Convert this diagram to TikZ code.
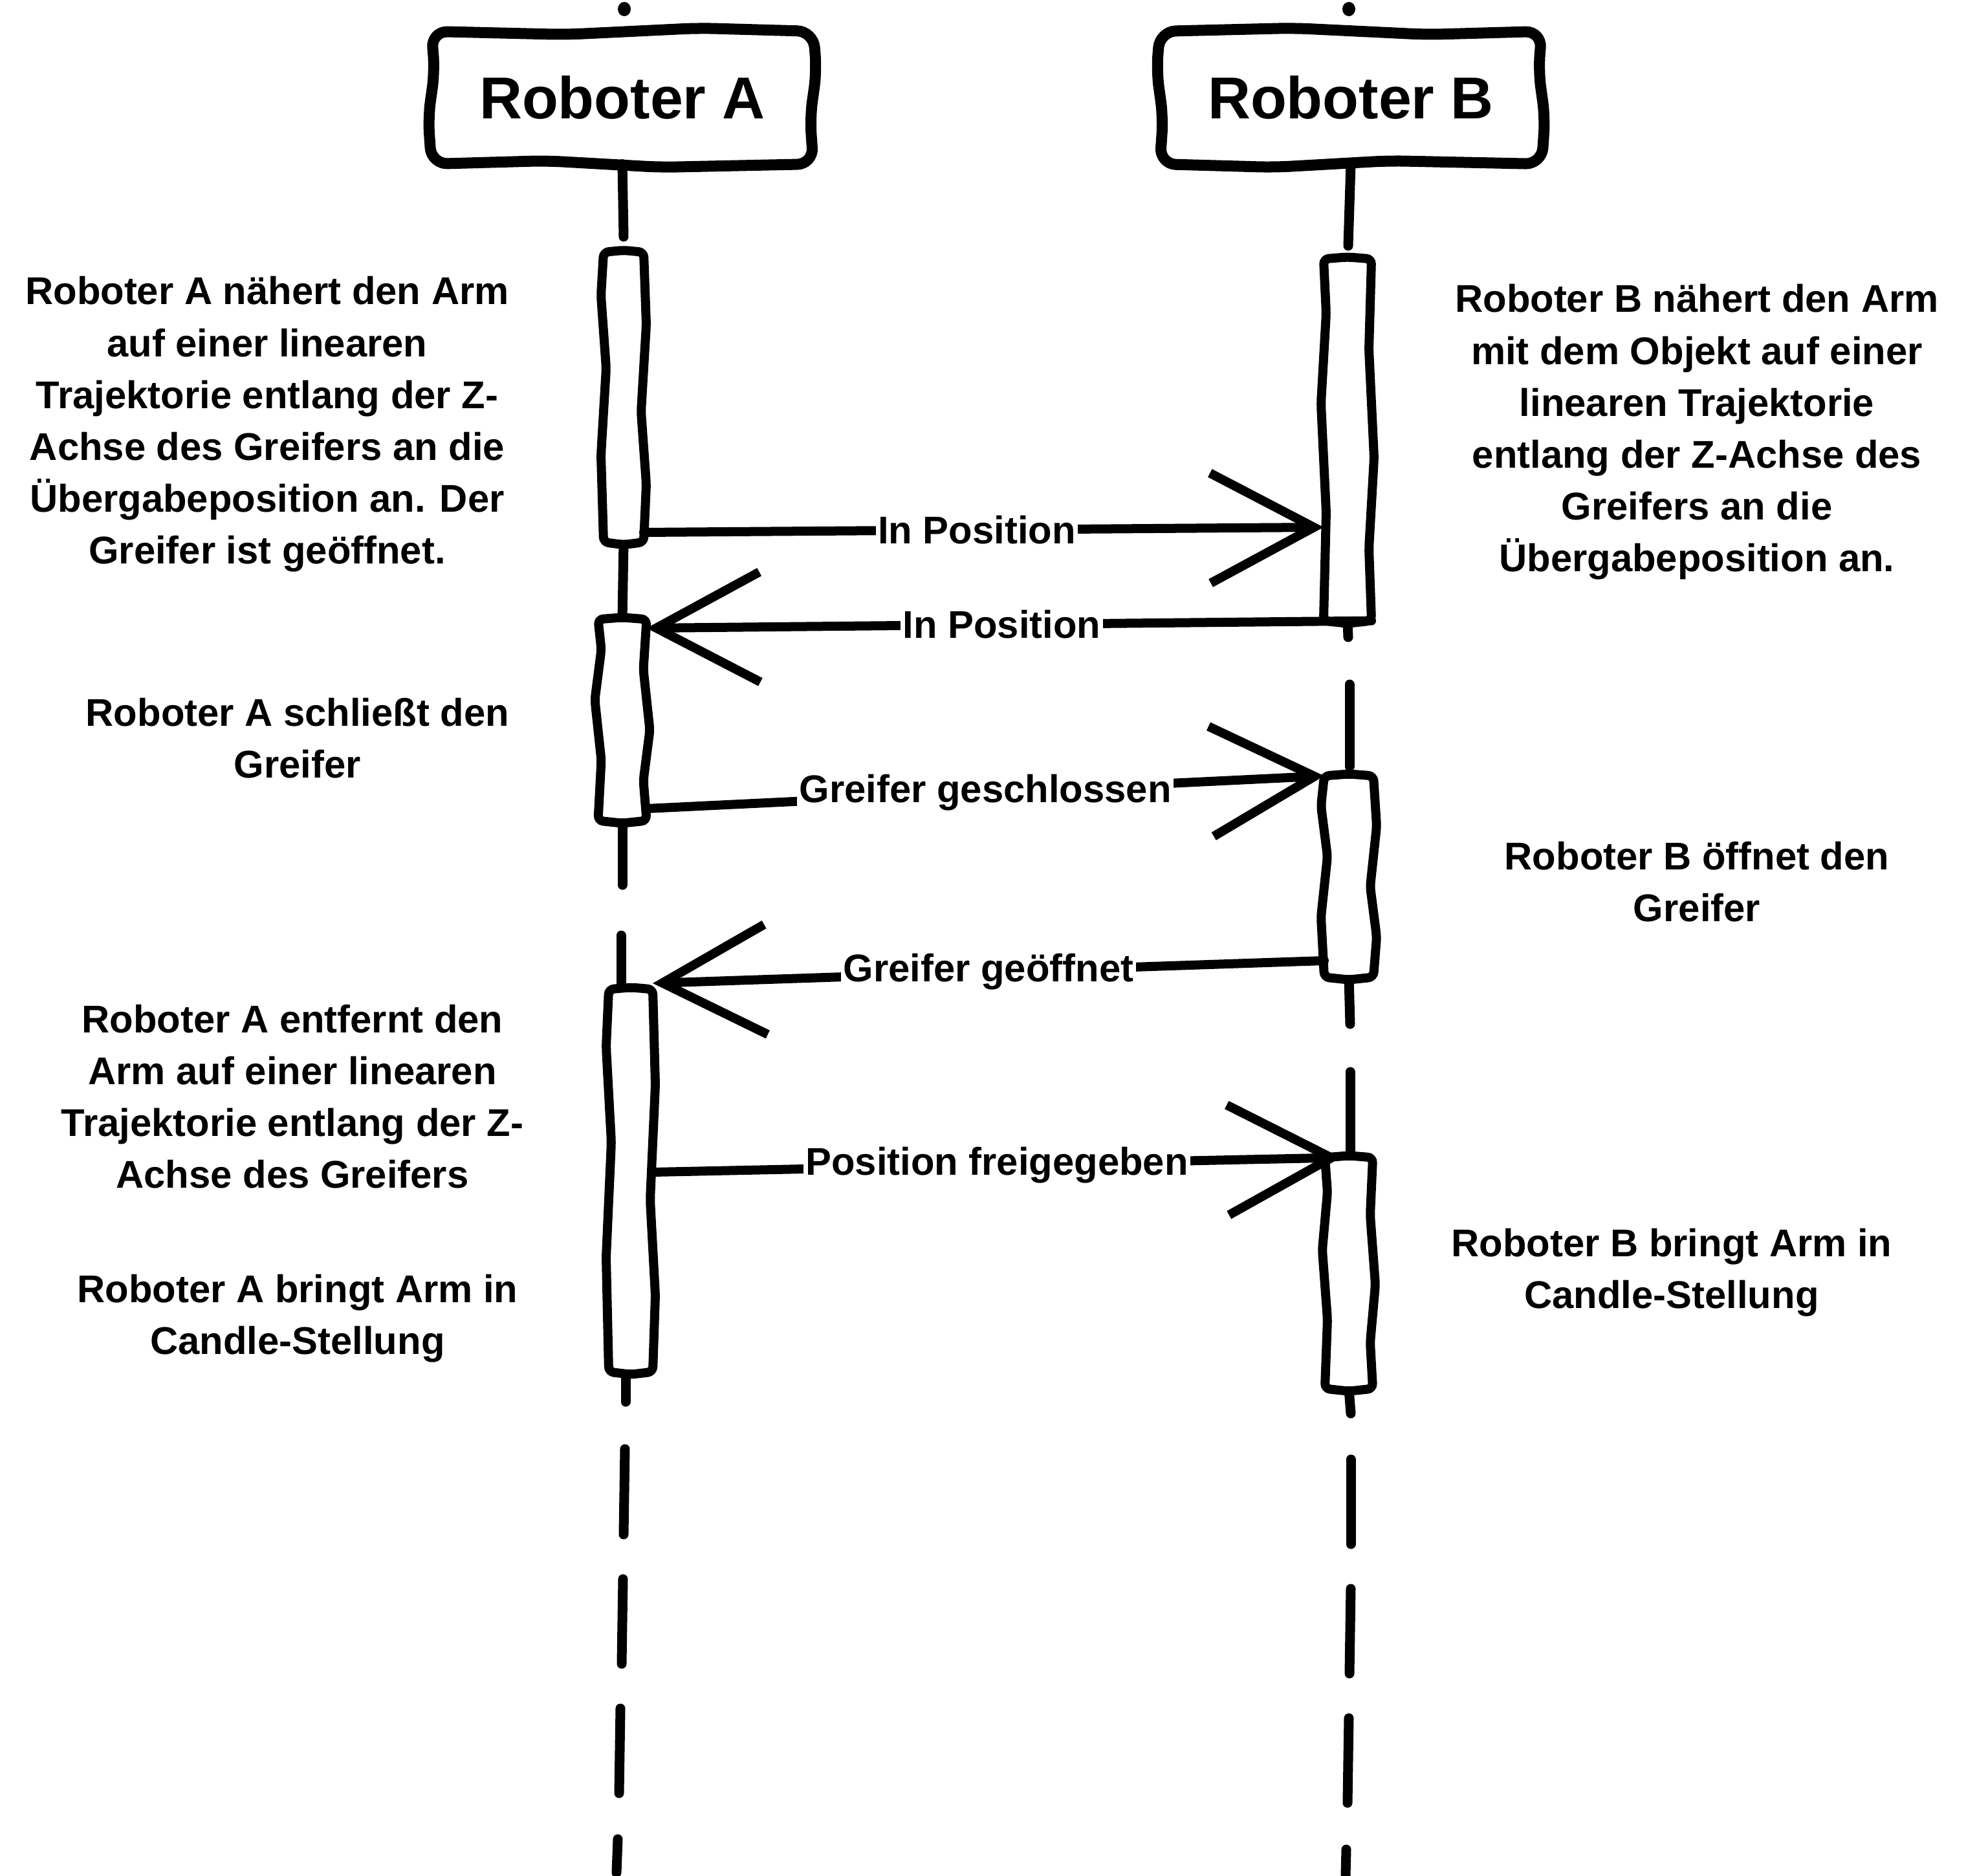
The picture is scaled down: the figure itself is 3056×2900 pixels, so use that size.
\documentclass[tikz,border=0pt]{standalone}
\usepackage{fontspec}
\setmainfont{Liberation Sans}
\usetikzlibrary{arrows.meta,calc}
% hand-drawn style outline round a named node: #1 style, #2 node, #3 wobble
\newcommand\skhead[3]{%
  \draw[#1] (#2.north west) -- ($(#2.north west)!0.35!(#2.north east)+(0,#3)$) -- ($(#2.north west)!0.7!(#2.north east)+(0,-#3)$) -- (#2.north east)
   -- ($(#2.north east)!0.3!(#2.south east)+(#3,0)$) -- ($(#2.north east)!0.65!(#2.south east)+(-#3,0)$) -- (#2.south east)
   -- ($(#2.south east)!0.4!(#2.south west)+(0,#3)$) -- ($(#2.south east)!0.7!(#2.south west)+(0,-#3)$) -- (#2.south west)
   -- ($(#2.south west)!0.35!(#2.north west)+(-#3,0)$) -- ($(#2.south west)!0.7!(#2.north west)+(#3,0)$) -- cycle;}
\newcommand\skbar[3]{%
  \draw[#1] (#2.north west) -- ($(#2.north west)!0.5!(#2.north east)+(0,-3)$) -- (#2.north east)
   -- ($(#2.north east)!0.25!(#2.south east)+(#3,0)$) -- ($(#2.north east)!0.55!(#2.south east)+(-#3,0)$) -- ($(#2.north east)!0.8!(#2.south east)+(#3,0)$) -- (#2.south east)
   -- ($(#2.south east)!0.5!(#2.south west)+(0,4)$) -- (#2.south west)
   -- ($(#2.south west)!0.3!(#2.north west)+(-#3,0)$) -- ($(#2.south west)!0.6!(#2.north west)+(#3,0)$) -- ($(#2.south west)!0.85!(#2.north west)+(-#3,0)$) -- cycle;}
\begin{document}
\begin{tikzpicture}[x=0.01cm,y=-0.01cm,
  head/.style={minimum width=5.9cm,minimum height=2.05cm,inner sep=0pt,outer sep=0pt,font=\fontsize{26}{30}\selectfont\bfseries},
  headline/.style={line width=0.17cm,rounded corners=0.25cm,line cap=round},
  actbar/.style={inner sep=0pt,outer sep=0pt},
  barline/.style={fill=white,line width=0.14cm,rounded corners=0.08cm,line cap=round},
  life/.style={line width=0.15cm,line cap=round},
  msg/.style={line width=0.14cm,line cap=round,-{Straight Barb[length=1.6cm,width=1.7cm]}},
  note/.style={align=center,font=\fontsize{17}{22.8}\selectfont\bfseries,inner sep=0pt},
  lbl/.style={fill=white,inner sep=1pt,font=\fontsize{17}{20}\selectfont\bfseries}]
\useasboundingbox (0,0) rectangle (3056,2900);

% headers
\node[head] (hA) at (962,151) {Roboter A};
\node[head] (hB) at (2088,151) {Roboter B};
\skhead{headline}{hA}{5}
\skhead{headline}{hB}{-5}
\fill (965,14) ellipse [x radius=0.1cm, y radius=0.11cm];
\fill (2085,14) ellipse [x radius=0.1cm, y radius=0.11cm];

% activation bars (placed as nodes, outlined later)
\path node[actbar,minimum width=0.62cm,minimum height=4.48cm] (barA1) at (964,614) {}
      node[actbar,minimum width=0.75cm,minimum height=3.11cm] (barA2) at (962,1113) {}
      node[actbar,minimum width=0.68cm,minimum height=5.91cm] (barA3) at (975,1825) {}
      node[actbar,minimum width=0.74cm,minimum height=5.59cm] (barB1) at (2083,680) {}
      node[actbar,minimum width=0.76cm,minimum height=3.11cm] (barB2) at (2085,1355) {}
      node[actbar,minimum width=0.74cm,minimum height=3.57cm] (barB3) at (2085,1968) {};

% lifelines
\coordinate (lA1) at (964,366);
\coordinate (lA2) at (962,1368);
\coordinate (lA3a) at (960,1446);
\coordinate (lA4) at (967,2167);
\draw[life] (hA.south) -- (lA1);
\draw[life] (barA1.south) -- (barA2.north);
\draw[life] (barA2.south) -- (lA2);
\draw[life] (lA3a) -- (lA3a |- barA3.north);
\draw[life] (barA3.south -| lA4) -- (lA4);
\draw[life] (966,2240) -- (964,2372);
\draw[life] (963,2441) -- (961,2572);
\draw[life] (959,2641) -- (957,2772);
\draw[life] (955,2843) -- (953,2895);

\coordinate (lB1) at (2084,380);
\coordinate (lB2) at (2084,985);
\coordinate (lB4) at (2087,1583);
\coordinate (lB5a) at (2087,1657);
\coordinate (lB6) at (2088,2185);
\draw[life] (hB.south) -- (lB1);
\draw[life] (barB1.south) -- (lB2);
\draw[life] (2086,1058) -- (2086,1185);
\draw[life] (barB2.south) -- (lB4);
\draw[life] (lB5a) -- (lB5a |- barB3.north);
\draw[life] (barB3.south) -- (lB6);
\draw[life] (2088,2256) -- (2088,2387);
\draw[life] (2088,2456) -- (2086,2587);
\draw[life] (2085,2656) -- (2083,2787);
\draw[life] (2081,2859) -- (2080,2900);

% bar outlines
\skbar{barline}{barA1}{4}
\skbar{barline}{barA2}{-5}
\skbar{barline}{barA3}{4}
\skbar{barline}{barB1}{-4}
\skbar{barline}{barB2}{5}
\skbar{barline}{barB3}{-4}

% messages
\draw[msg] (barA1.east |- 0,823) -- node[lbl,pos=0.49]{In Position} (barB1.west |- 0,815);
\draw[msg] (barB1.south east) -- node[lbl,pos=0.51]{In Position} (barA2.east |- 0,971);
\draw[msg] (barA2.east |- 0,1250) -- node[lbl,pos=0.5]{Greifer geschlossen} (barB2.north west);
\draw[msg] (barB2.west |- 0,1485) -- node[lbl,pos=0.5]{Greifer geöffnet} (barA3.east |- 0,1520);
\draw[msg] (barA3.east |- 0,1812) -- node[lbl,pos=0.5]{Position freigegeben} ([xshift=0.25cm]barB3.north west);

% notes
\node[note] (tA1) at (413,656) {Roboter A nähert den Arm\\auf einer linearen\\Trajektorie entlang der Z-\\Achse des Greifers an die\\Übergabeposition an. Der\\Greifer ist geöffnet.};
\node[note] (tB1) at (2623,668) {Roboter B nähert den Arm\\mit dem Objekt auf einer\\linearen Trajektorie\\entlang der Z-Achse des\\Greifers an die\\Übergabeposition an.};
\node[note] (tA2) at (460,1141) {Roboter A schließt den\\Greifer};
\node[note] (tB2) at (2623,1363) {Roboter B öffnet den\\Greifer};
\node[note] (tA3) at (452,1695) {Roboter A entfernt den\\Arm auf einer linearen\\Trajektorie entlang der Z-\\Achse des Greifers};
\node[note] (tA4) at (460,2038) {Roboter A bringt Arm in\\Candle-Stellung};
\node[note] (tB3) at (2584,1967) {Roboter B bringt Arm in\\Candle-Stellung};
\end{tikzpicture}
\end{document}
